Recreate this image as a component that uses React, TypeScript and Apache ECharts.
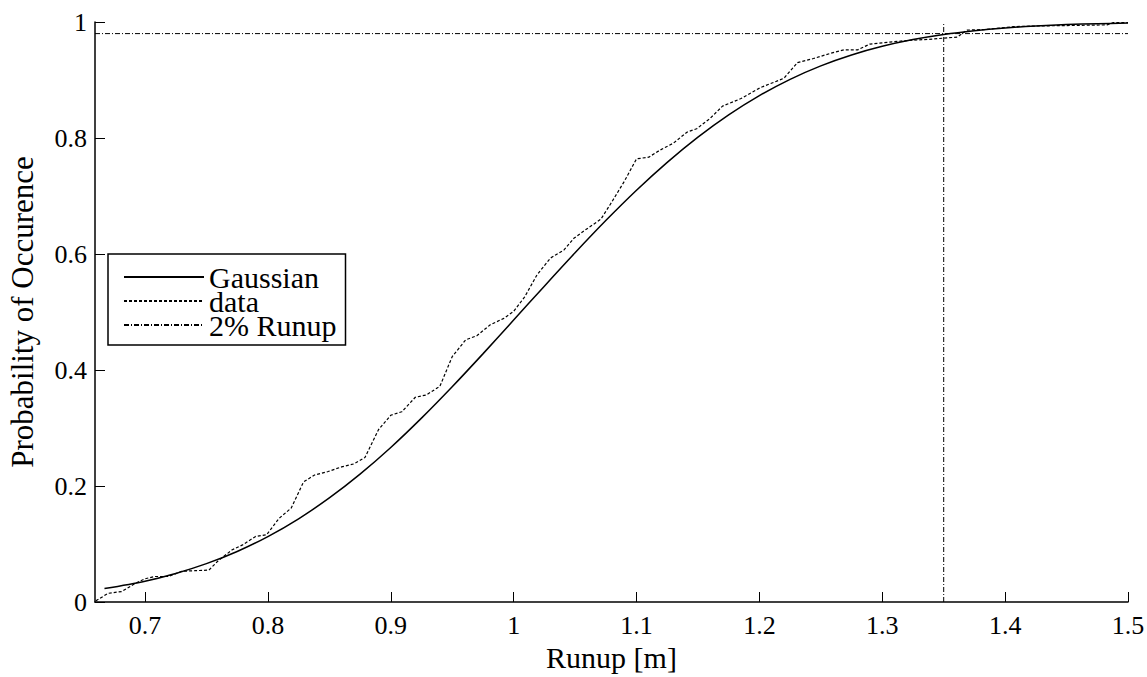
import React, { useEffect, useRef } from "react";
import * as echarts from "echarts";

const gaussX = [0.667, 0.7, 0.725, 0.75, 0.775, 0.8, 0.825, 0.85, 0.875, 0.9, 0.925, 0.95, 0.975, 1.0, 1.025, 1.05, 1.075, 1.1, 1.125, 1.15, 1.175, 1.2, 1.225, 1.25, 1.275, 1.3, 1.325, 1.35, 1.375, 1.4, 1.425, 1.45, 1.475, 1.5];
const gaussY = [0.0231, 0.0359, 0.0492, 0.0661, 0.0871, 0.1128, 0.1435, 0.1794, 0.2204, 0.2664, 0.317, 0.3711, 0.4278, 0.486, 0.5446, 0.6021, 0.6576, 0.7099, 0.758, 0.8015, 0.8399, 0.8731, 0.9012, 0.9244, 0.9432, 0.9581, 0.9697, 0.9785, 0.985, 0.9898, 0.9932, 0.9955, 0.9971, 0.9982];

const dataX = [0.66, 0.67, 0.681, 0.692, 0.7, 0.708, 0.719, 0.73, 0.741, 0.752, 0.76, 0.771, 0.779, 0.79, 0.799, 0.809, 0.819, 0.829, 0.838, 0.849, 0.86, 0.87, 0.879, 0.89, 0.9, 0.909, 0.92, 0.929, 0.94, 0.95, 0.961, 0.97, 0.981, 0.992, 1.0, 1.009, 1.019, 1.03, 1.041, 1.049, 1.058, 1.071, 1.08, 1.09, 1.1, 1.11, 1.119, 1.13, 1.141, 1.149, 1.16, 1.17, 1.185, 1.201, 1.22, 1.231, 1.244, 1.258, 1.269, 1.28, 1.29, 1.304, 1.32, 1.337, 1.361, 1.369, 1.383, 1.407, 1.423, 1.483, 1.488, 1.5];
const dataY = [0.002, 0.015, 0.018, 0.032, 0.04, 0.044, 0.044, 0.053, 0.054, 0.055, 0.072, 0.09, 0.098, 0.113, 0.116, 0.144, 0.162, 0.207, 0.219, 0.225, 0.233, 0.238, 0.249, 0.297, 0.322, 0.328, 0.353, 0.357, 0.372, 0.423, 0.452, 0.459, 0.478, 0.489, 0.501, 0.526, 0.564, 0.593, 0.607, 0.627, 0.641, 0.66, 0.69, 0.725, 0.764, 0.767, 0.779, 0.791, 0.81, 0.816, 0.834, 0.855, 0.868, 0.887, 0.903, 0.93, 0.937, 0.946, 0.952, 0.952, 0.962, 0.965, 0.968, 0.97, 0.974, 0.986, 0.987, 0.992, 0.993, 0.995, 0.999, 0.999];

const xMin = 0.6593;
const xMax = 1.5;
const runupX = 1.35;
const runupP = 0.98;
const xTicks = ["0.7", "0.8", "0.9", "1", "1.1", "1.2", "1.3", "1.4", "1.5"];
const yTicks = ["0", "0.2", "0.4", "0.6", "0.8", "1"];

const FONT = "Liberation Serif";

export default function App() {
  const ref = useRef<HTMLDivElement>(null);
  useEffect(() => {
    if (!ref.current) return;
    const chart = echarts.init(ref.current, undefined, { renderer: "svg" });
    const fmtX = (v: number) => {
      const s = String(Math.round(v * 10) / 10);
      return Math.abs(v * 10 - Math.round(v * 10)) < 1e-6 && xTicks.includes(s) ? s : "";
    };
    const fmtY = (v: number) => {
      const s = String(Math.round(v * 10) / 10);
      return yTicks.includes(s) ? s : "";
    };
    chart.setOption({
      animation: false,
      grid: { left: 95, right: 19, top: 22, bottom: 75, containLabel: false, outerBoundsMode: "none" },
      xAxis: {
        type: "value",
        min: xMin,
        max: xMax,
        splitNumber: 8,
        splitLine: { show: false },
        axisLine: { show: true, onZero: false, lineStyle: { color: "#000", width: 1.5 } },
        axisTick: { show: true, inside: true, length: 10, lineStyle: { color: "#000", width: 1 } },
        axisLabel: { color: "#000", fontSize: 26, fontFamily: FONT, margin: 10, formatter: fmtX, showMinLabel: false },
        name: "Runup [m]",
        nameLocation: "middle",
        nameGap: 40,
        nameTextStyle: { color: "#000", fontSize: 30, fontFamily: FONT },
      },
      yAxis: {
        type: "value",
        min: 0,
        max: 1,
        interval: 0.2,
        splitLine: { show: false },
        axisLine: { show: true, onZero: false, lineStyle: { color: "#000", width: 1.5 } },
        axisTick: { show: true, inside: true, length: 10, lineStyle: { color: "#000", width: 1 } },
        axisLabel: { color: "#000", fontSize: 26, fontFamily: FONT, margin: 8, formatter: fmtY },
        name: "Probability of Occurence",
        nameLocation: "middle",
        nameGap: 57,
        nameTextStyle: { color: "#000", fontSize: 31, fontFamily: FONT },
      },
      legend: {
        show: true,
        orient: "vertical",
        left: 108,
        top: 254,
        data: ["Gaussian", "data", "2% Runup"],
        backgroundColor: "#ffffff",
        borderColor: "#000",
        borderWidth: 1.5,
        borderRadius: 0,
        padding: [8, 9, 5, 15],
        itemWidth: 80,
        itemHeight: 14,
        itemGap: -6,
        selectedMode: false,
        itemStyle: { opacity: 0 },
        textStyle: { color: "#000", fontSize: 30, fontFamily: FONT, lineHeight: 24 },
      },
      series: [
        {
          name: "Gaussian",
          type: "line",
          data: gaussX.map((x, i) => [x, gaussY[i]]),
          showSymbol: false,
          symbol: "none",
          smooth: 0.3,
          lineStyle: { color: "#000", width: 1.5, type: "solid" },
          itemStyle: { color: "#000" },
          z: 3,
        },
        {
          name: "data",
          type: "line",
          data: dataX.map((x, i) => [x, dataY[i]]),
          showSymbol: false,
          symbol: "none",
          lineStyle: { color: "#000", width: 1.2, type: [3, 2] },
          itemStyle: { color: "#000" },
          z: 3,
        },
        {
          name: "2% Runup",
          type: "line",
          data: [[xMin, runupP], [xMax, runupP]],
          showSymbol: false,
          symbol: "none",
          lineStyle: { color: "#000", width: 1, type: [5, 2, 1, 2] },
          itemStyle: { color: "#000" },
          z: 2,
        },
        {
          name: "2% Runup",
          type: "line",
          data: [[runupX, 0], [runupX, 1]],
          showSymbol: false,
          symbol: "none",
          lineStyle: { color: "#000", width: 1, type: [5, 2, 1, 2] },
          itemStyle: { color: "#000" },
          z: 2,
        },
      ],
    });
    return () => chart.dispose();
  }, []);
  return <div ref={ref} style={{ position: "absolute", left: 0, top: 0, width: 1147, height: 677 }} />;
}
